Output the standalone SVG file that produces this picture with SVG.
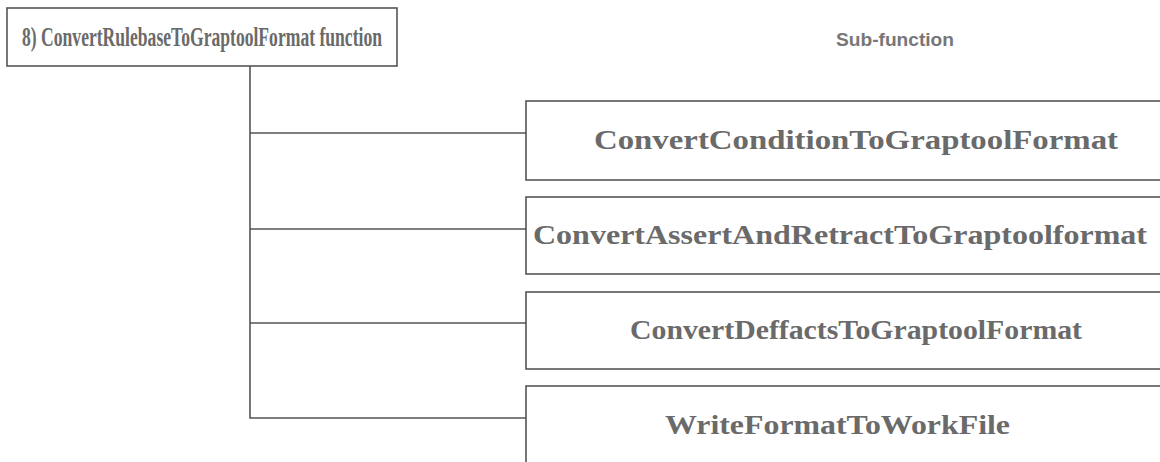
<svg xmlns="http://www.w3.org/2000/svg" width="1160" height="462" viewBox="0 0 1160 462">
<style>
.box{fill:#fff;stroke:#555;stroke-width:1.6}
.ln{fill:none;stroke:#555;stroke-width:1.6}
.t{font-family:"Liberation Serif","Times New Roman",serif;font-weight:bold;fill:#6a6a6a;font-size:28px}
.s{font-family:"Liberation Sans",Arial,sans-serif;font-weight:bold;fill:#777;font-size:18px}
</style>
<rect width="1160" height="462" fill="#fff"/>
<g id="main">
<rect class="box" x="7" y="8" width="390" height="58"/>
<text class="t" x="22" y="46" font-size="20" textLength="360" lengthAdjust="spacingAndGlyphs">8) ConvertRulebaseToGraptoolFormat function</text>
</g>
<g id="subtitle">
<text class="s" x="836" y="46" textLength="118" lengthAdjust="spacingAndGlyphs">Sub-function</text>
</g>
<g id="connectors">
<path class="ln" d="M250 66 V418 H526 M250 133 H526 M250 229 H526 M250 323 H526"/>
</g>
<g id="n1">
<rect class="box" x="526" y="101" width="650" height="79"/>
<text class="t" x="594" y="149" textLength="524" lengthAdjust="spacingAndGlyphs">ConvertConditionToGraptoolFormat</text>
</g>
<g id="n2">
<rect class="box" x="526" y="197" width="650" height="77"/>
<text class="t" x="533" y="244" textLength="614" lengthAdjust="spacingAndGlyphs">ConvertAssertAndRetractToGraptoolformat</text>
</g>
<g id="n3">
<rect class="box" x="526" y="292" width="650" height="77"/>
<text class="t" x="630" y="339" textLength="452" lengthAdjust="spacingAndGlyphs">ConvertDeffactsToGraptoolFormat</text>
</g>
<g id="n4">
<rect class="box" x="526" y="386" width="650" height="90"/>
<text class="t" x="665" y="434" textLength="345" lengthAdjust="spacingAndGlyphs">WriteFormatToWorkFile</text>
</g>
</svg>
